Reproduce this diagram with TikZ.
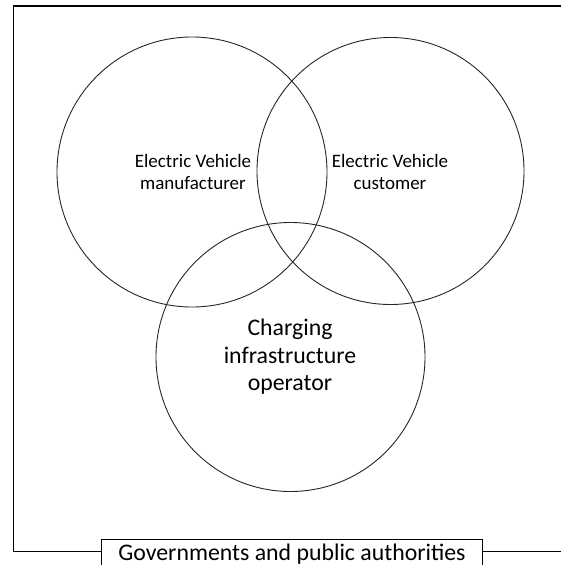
\documentclass[tikz,border=0pt]{standalone}
\usepackage{fontspec}
\setmainfont{Carlito}
\begin{document}
\begin{tikzpicture}[x=1pt,y=-1pt,
  venn/.style={circle, draw=black!85, line width=0.9pt, inner sep=0pt},
  smalltxt/.style={align=center, font=\fontsize{19}{22}\selectfont, inner sep=0pt},
  bigtxt/.style={align=center, font=\fontsize{23.8}{27.5}\selectfont, inner sep=0pt},
  frame/.style={line width=1.3pt, draw=black}]
\useasboundingbox (0,0) rectangle (560,565);
\node[venn, minimum size=270pt] (cl) at (192,172) {};
\node[venn, minimum size=267pt] (cr) at (390.5,171) {};
\node[venn, minimum size=269pt] (cb) at (290.5,357) {};
\node[smalltxt] (tl) at (193,172) {Electric Vehicle\\manufacturer};
\node[smalltxt] (tr) at (390,172) {Electric Vehicle\\customer};
\node[bigtxt] (tb) at (290,357) {Charging\\infrastructure\\operator};
\node[draw, line width=1.1pt, fill=white, minimum width=381pt, minimum height=32pt, inner sep=0pt,
  anchor=north west] (gov) at (101,539) {};
\node[font=\fontsize{23.8}{26}\selectfont, inner sep=0pt, anchor=base] (govt) at (292,560) {Governments and public authorities};
\coordinate (fl) at (13.5,551.5);
\coordinate (tlc) at (13.5,6);
\coordinate (trc) at (565,6);
\coordinate (br) at (565,551.5);
\draw[frame] (gov.west |- fl) -- (fl) -- (tlc) -- (trc);
\draw[frame] (gov.east |- br) -- (br);
\end{tikzpicture}
\end{document}
